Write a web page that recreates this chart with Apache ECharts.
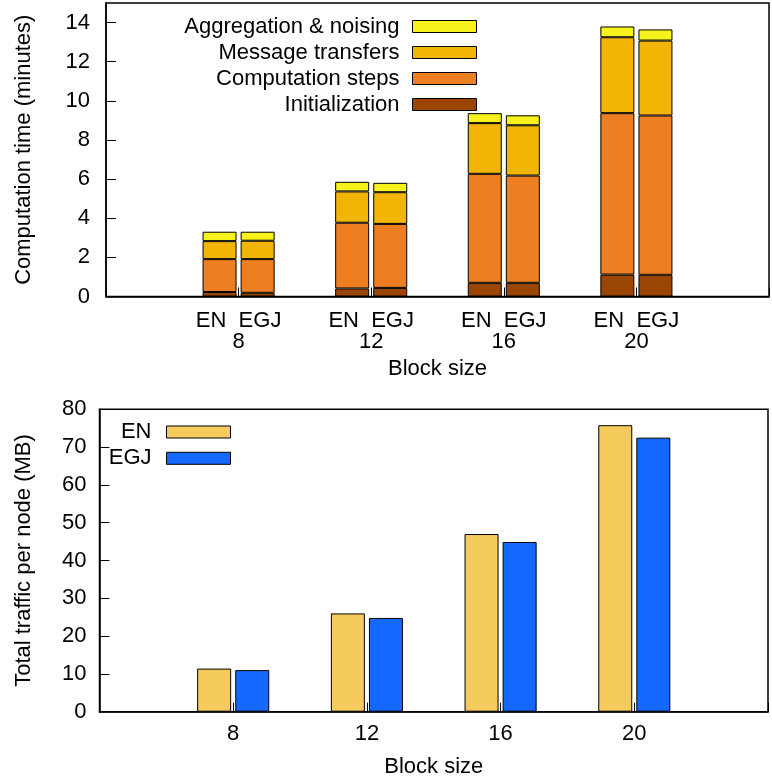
<!DOCTYPE html>
<html>
<head>
<meta charset="utf-8">
<script src="https://cdn.jsdelivr.net/npm/echarts@6/dist/echarts.min.js"></script>
<style>
  html, body { margin: 0; padding: 0; background: #fff; }
  #chart { width: 772px; height: 782px; }
</style>
</head>
<body>
<div id="chart"></div>
<script>
// Block sizes on the x axis (both panels)
const blockSizes = [8, 12, 16, 20];

// Computation time per phase, minutes
const enInit = [0.23, 0.41, 0.70, 1.12];
const enComp = [1.68, 3.36, 5.57, 8.25];
const enMsg  = [0.92, 1.60, 2.59, 3.88];
const enAgg  = [0.48, 0.49, 0.51, 0.55];

const egjInit = [0.19, 0.44, 0.70, 1.11];
const egjComp = [1.72, 3.27, 5.48, 8.14];
const egjMsg  = [0.94, 1.62, 2.57, 3.83];
const egjAgg  = [0.46, 0.48, 0.51, 0.57];

// Total traffic per node, MB
const enTraffic  = [11.4, 26.0, 47.0, 75.8];
const egjTraffic = [11.0, 24.8, 44.9, 72.5];

const phaseNames = ['Initialization', 'Computation steps', 'Message transfers', 'Aggregation & noising'];
const phaseColors = ['#9b4503', '#ee7e22', '#f3b505', '#f7f21c'];

const FONT = '"Liberation Sans", Arial, Helvetica, sans-serif';
const FS = 22;

// The x range runs one step beyond the first and last block size
const slots = [''].concat(blockSizes.map(String), ['']);
const pad = arr => [null].concat(arr, [null]);

const chart = echarts.init(document.getElementById('chart'), null, { renderer: 'canvas' });

const barBorder = { borderColor: '#000', borderWidth: 1 };

function phaseSeries(stack, values) {
  return values.map((vals, i) => ({
    name: phaseNames[i],
    type: 'bar',
    stack: stack,
    xAxisIndex: 0,
    yAxisIndex: 0,
    barWidth: 34,
    barGap: '12%',
    itemStyle: Object.assign({ color: phaseColors[i] }, barBorder),
    data: pad(vals),
    animation: false
  }));
}

const commonAxisLine = { show: true, lineStyle: { color: '#000', width: 1.5 } };
const labelStyle = { color: '#000', fontFamily: FONT, fontSize: FS };

const option = {
  animation: false,
  textStyle: { fontFamily: FONT, color: '#000' },
  grid: [
    { left: 106, top: 3, width: 667, height: 293.5, show: true, borderColor: '#000', borderWidth: 1.5, backgroundColor: 'transparent' },
    { left: 99.5, top: 409.3, width: 668.5, height: 302.4, show: true, borderColor: '#000', borderWidth: 1.5, backgroundColor: 'transparent' }
  ],
  legend: [
    {
      data: phaseNames.slice().reverse(),
      orient: 'vertical',
      align: 'right',
      right: 295,
      top: 15.5,
      padding: 0,
      itemWidth: 64,
      itemHeight: 12,
      itemGap: 4,
      icon: 'rect',
      selectedMode: false,
      itemStyle: { borderColor: '#000', borderWidth: 1 },
      textStyle: { fontFamily: FONT, fontSize: FS, lineHeight: 21, color: '#000', padding: [0, 8, 0, 0] }
    },
    {
      data: ['EN', 'EGJ'],
      orient: 'vertical',
      align: 'right',
      right: 541,
      top: 421,
      padding: 0,
      itemWidth: 64,
      itemHeight: 12,
      itemGap: 4.3,
      icon: 'rect',
      selectedMode: false,
      itemStyle: { borderColor: '#000', borderWidth: 1 },
      textStyle: { fontFamily: FONT, fontSize: FS, lineHeight: 21, color: '#000', padding: [0, 10, 0, 0] }
    }
  ],
  xAxis: [
    {
      gridIndex: 0,
      type: 'category',
      data: slots,
      boundaryGap: false,
      axisLine: commonAxisLine,
      axisTick: { show: true, inside: true, length: 9, interval: 0, lineStyle: { color: '#000', width: 1 } },
      axisLabel: Object.assign({}, labelStyle, {
        interval: 0,
        margin: 13.5,
        lineHeight: 21,
        formatter: v => (v ? 'EN  EGJ\n' + v : '')
      }),
      splitLine: { show: false },
      name: 'Block size',
      nameLocation: 'middle',
      nameGap: 61,
      nameTextStyle: { fontFamily: FONT, fontSize: FS, lineHeight: 22, color: '#000' }
    },
    {
      gridIndex: 1,
      type: 'category',
      data: slots,
      boundaryGap: false,
      axisLine: commonAxisLine,
      axisTick: { show: true, inside: true, length: 9, interval: 0, lineStyle: { color: '#000', width: 1 } },
      axisLabel: Object.assign({}, labelStyle, {
        interval: 0,
        margin: 11,
        lineHeight: 22
      }),
      splitLine: { show: false },
      name: 'Block size',
      nameLocation: 'middle',
      nameGap: 44.5,
      nameTextStyle: { fontFamily: FONT, fontSize: FS, lineHeight: 22, color: '#000' }
    }
  ],
  yAxis: [
    {
      gridIndex: 0,
      type: 'value',
      min: 0,
      max: 15,
      interval: 2,
      axisLine: commonAxisLine,
      axisTick: { show: true, inside: true, length: 10, lineStyle: { color: '#000', width: 1 } },
      axisLabel: Object.assign({}, labelStyle, { margin: 16, showMaxLabel: false }),
      splitLine: { show: false },
      name: 'Computation time (minutes)',
      nameLocation: 'middle',
      nameGap: 71,
      nameTextStyle: { fontFamily: FONT, fontSize: FS, lineHeight: 22, color: '#000' }
    },
    {
      gridIndex: 1,
      type: 'value',
      min: 0,
      max: 80,
      interval: 10,
      axisLine: commonAxisLine,
      axisTick: { show: true, inside: true, length: 10, lineStyle: { color: '#000', width: 1 } },
      axisLabel: Object.assign({}, labelStyle, { margin: 13 }),
      splitLine: { show: false },
      name: 'Total traffic per node (MB)',
      nameLocation: 'middle',
      nameGap: 65,
      nameTextStyle: { fontFamily: FONT, fontSize: FS, lineHeight: 22, color: '#000' }
    }
  ],
  series: [].concat(
    phaseSeries('EN', [enInit, enComp, enMsg, enAgg]),
    phaseSeries('EGJ', [egjInit, egjComp, egjMsg, egjAgg]),
    [
      {
        name: 'EN',
        type: 'bar',
        xAxisIndex: 1,
        yAxisIndex: 1,
        barWidth: 34,
        barGap: '12%',
        itemStyle: Object.assign({ color: '#f4cb5c' }, barBorder),
        data: pad(enTraffic)
      },
      {
        name: 'EGJ',
        type: 'bar',
        xAxisIndex: 1,
        yAxisIndex: 1,
        barWidth: 34,
        barGap: '12%',
        itemStyle: Object.assign({ color: '#1569fe' }, barBorder),
        data: pad(egjTraffic)
      }
    ]
  )
};

chart.setOption(option);
</script>
</body>
</html>
